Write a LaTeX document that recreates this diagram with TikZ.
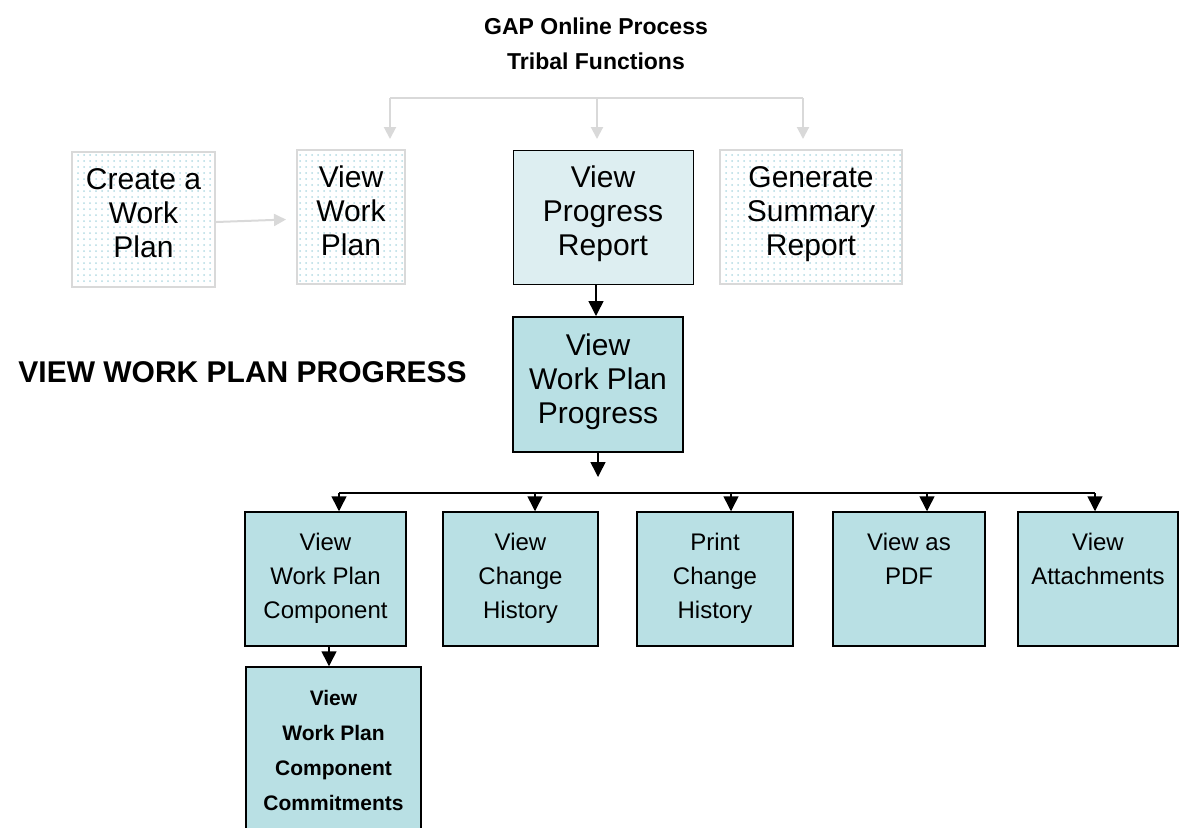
\documentclass[tikz,border=0pt]{standalone}
\usepackage{fontspec}
\setmainfont{Liberation Sans}
\usetikzlibrary{arrows.meta,positioning,patterns}
\definecolor{palegrey}{RGB}{217,217,217}
\definecolor{dotblue}{RGB}{178,218,226}
\definecolor{lightteal}{RGB}{221,238,241}
\definecolor{boxteal}{RGB}{185,224,228}
\newcommand\boxfont{\fontsize{15}{17}\selectfont}
\newcommand\subfont{\fontsize{12}{17}\selectfont}
\newcommand\boldsub{\fontsize{10.5}{17.5}\selectfont\bfseries}
\newcommand\titlefont{\fontsize{11.5}{17.5}\selectfont\bfseries}
\newcommand\labelfont{\fontsize{15}{18}\selectfont\bfseries}

\begin{document}
\begin{tikzpicture}[x=0.5pt,y=-0.5pt,
    greybox/.style={draw=palegrey, line width=1pt, pattern=dots, pattern color=dotblue,
                    align=center, font=\boxfont, text depth=6pt, inner sep=0pt, minimum height=67pt},
    lightbox/.style={draw=black, line width=0.5pt, fill=lightteal,
                     align=center, font=\boxfont, text depth=6pt, inner sep=0pt, minimum height=67pt},
    tealbox/.style={draw=black, line width=0.75pt, fill=boxteal, inner sep=0pt, minimum height=67pt},
    subtext/.style={anchor=north, align=center, font=\subfont, inner sep=0pt},
    greyline/.style={draw=palegrey, line width=1pt},
    greyarrow/.style={greyline, -{Triangle[length=6pt,width=6pt]}},
    blackline/.style={draw=black, line width=0.75pt},
    blackarrow/.style={blackline, -{Triangle[length=7.5pt,width=7.5pt]}}]
    \useasboundingbox (0,0) rectangle (1179,827);
    \clip (0,0) rectangle (1179,827);

    % heading
    \node[font=\titlefont, align=center, inner sep=0pt] (title) at (596,44) {GAP Online Process\\Tribal Functions};
    \node[font=\labelfont, anchor=west, inner sep=0pt] (heading) at (18,372) {VIEW WORK PLAN PROGRESS};

    % tribal functions row
    \node[greybox, minimum width=71.5pt, minimum height=67.5pt] (create) at (143.5,219.5) {Create a\\Work\\Plan};
    \node[greybox, minimum width=54pt] (viewplan) at (351,217) {View\\Work\\Plan};
    \node[lightbox, minimum width=90pt] (progrep) at (603,217) {View\\Progress\\Report};
    \node[greybox, minimum width=91pt] (summary) at (811,217) {Generate\\Summary\\Report};

    \coordinate (g1) at (390,98);
    \coordinate (g2) at (597,98);
    \coordinate (g3) at (803,98);
    \draw[greyline] (g1) -- (g3);
    \foreach \g in {g1,g2,g3}
        \draw[greyarrow] (\g) -- ([yshift=5pt]\g |- viewplan.north);
    \draw[greyarrow] ([yshift=-1.25pt]create.east) -- ([xshift=-5pt,yshift=-1.25pt]viewplan.west);

    % work plan progress
    \node[tealbox, line width=1pt, align=center, font=\boxfont, text depth=6pt, minimum width=85pt, minimum height=67.5pt] (wpp) at (598,384.5) {View\\Work Plan\\Progress};
    \draw[blackarrow] ([xshift=-3.5pt]progrep.south) -- ([xshift=-3.5pt]progrep.south |- wpp.north);

    % sub functions
    \node[tealbox, minimum width=80.5pt] (b1) at (325.5,579) {};
    \node[tealbox, minimum width=77.5pt] (b2) at (520.5,579) {};
    \node[tealbox, minimum width=78pt] (b3) at (715,579) {};
    \node[tealbox, minimum width=76pt] (b4) at (909,579) {};
    \node[tealbox, minimum width=80pt] (b5) at (1098,579) {};
    \node[subtext] (b1t) at ([yshift=-10.5pt]b1.north) {View\\Work Plan\\Component};
    \node[subtext] (b2t) at ([yshift=-10.5pt]b2.north) {View\\Change\\History};
    \node[subtext] (b3t) at ([yshift=-10.5pt]b3.north) {Print\\Change\\History};
    \node[subtext] (b4t) at ([yshift=-10.5pt]b4.north) {View as\\PDF};
    \node[subtext] (b5t) at ([yshift=-10.5pt]b5.north) {View\\Attachments};

    \coordinate (hub) at (598,477);
    \draw[blackarrow] (wpp.south) -- (hub);
    \coordinate (bus1) at (339,493);
    \coordinate (bus2) at (535,493);
    \coordinate (bus3) at (731,493);
    \coordinate (bus4) at (927,493);
    \coordinate (bus5) at (1095,493);
    \draw[blackline] (bus1) -- (bus5);
    \foreach \i in {1,...,5}
        \draw[blackarrow] (bus\i) -- (bus\i |- b\i.north);

    % commitments
    \node[tealbox, minimum width=87.5pt, minimum height=91.5pt] (b6) at (333.5,758.5) {};
    \node[subtext, font=\boldsub] (b6t) at ([yshift=-11.75pt]b6.north) {View\\Work Plan\\Component\\Commitments};
    \draw[blackarrow] ([xshift=1.75pt]b1.south) -- ([xshift=1.75pt]b1.south |- b6.north);
\end{tikzpicture}
\end{document}
